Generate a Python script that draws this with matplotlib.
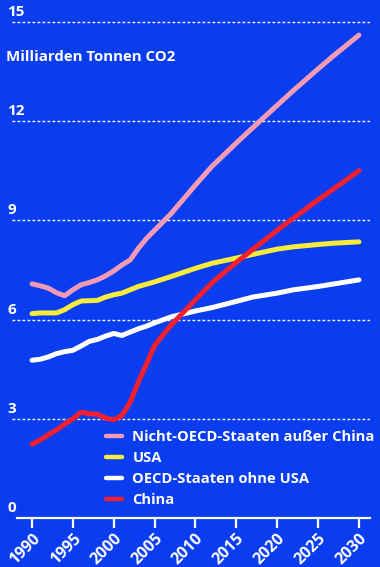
import matplotlib.pyplot as plt
from matplotlib.transforms import offset_copy

# CO2-Emissionen in Milliarden Tonnen
years = [1990, 1991, 1992, 1993, 1994, 1995, 1996, 1997, 1998, 1999, 2000,
         2001, 2002, 2003, 2004, 2005, 2007, 2010, 2012, 2015, 2017, 2020,
         2022, 2025, 2027, 2030]
nicht_oecd = [7.08, 7.02, 6.95, 6.81, 6.72, 6.90, 7.05, 7.12, 7.20, 7.32, 7.47,
              7.65, 7.80, 8.15, 8.45, 8.70, 9.20, 10.07, 10.63, 11.34, 11.80,
              12.48, 12.93, 13.58, 14.00, 14.60]
usa = [6.18, 6.20, 6.20, 6.20, 6.30, 6.45, 6.56, 6.57, 6.58, 6.68, 6.75,
       6.80, 6.90, 7.00, 7.07, 7.14, 7.30, 7.55, 7.70, 7.86, 7.97, 8.13,
       8.20, 8.27, 8.31, 8.35]
oecd_ohne_usa = [4.77, 4.80, 4.87, 4.97, 5.03, 5.07, 5.20, 5.34, 5.40, 5.50,
                 5.58, 5.52, 5.62, 5.72, 5.80, 5.90, 6.08, 6.26, 6.36, 6.55,
                 6.68, 6.80, 6.90, 7.00, 7.08, 7.20]
china = [2.23, 2.36, 2.52, 2.66, 2.84, 3.00, 3.20, 3.15, 3.14, 3.02, 2.97,
         3.10, 3.50, 4.10, 4.65, 5.22, 5.83, 6.60, 7.11, 7.73, 8.12, 8.70,
         9.07, 9.62, 9.97, 10.50]

series = [
    ('Nicht-OECD-Staaten außer China', nicht_oecd, '#f39bb4'),
    ('USA', usa, '#f7ec3c'),
    ('OECD-Staaten ohne USA', oecd_ohne_usa, '#ffffff'),
    ('China', china, '#f2202e'),
]
y_ticks = [0, 3, 6, 9, 12, 15]
x_ticks = list(range(1990, 2031, 5))

bg = '#0a3cf0'
plt.rcParams['font.family'] = ['Open Sans', 'DejaVu Sans']
plt.rcParams['font.weight'] = 'bold'

fig = plt.figure(figsize=(3.8, 5.67), dpi=100, facecolor=bg)
ax = fig.add_axes([12 / 380, 49 / 567, 358 / 380, 509 / 567])
ax.set_facecolor(bg)
ax.set_xlim(1987.55, 2031.35)
ax.set_ylim(0, 15.39)

# dotted gridlines
for v in y_ticks[1:]:
    ax.axhline(v, color='white', lw=1.0, ls=(0, (2, 1.6)), zorder=1)

for label, vals, col in series:
    ax.plot(years, vals, color=col, lw=3.6, solid_capstyle='round',
            solid_joinstyle='round', label=label, zorder=3)

# y labels sit above the gridlines
ytrans = offset_copy(ax.get_yaxis_transform(), fig=fig, x=0, y=3, units='dots')
for v in y_ticks:
    ax.text(-0.013, v, str(v), transform=ytrans, color='white', fontsize=11,
            fontweight='bold', ha='left', va='bottom')
ax.set_yticks([])

ax.text(-0.016, 13.95, 'Milliarden Tonnen CO2', transform=ax.get_yaxis_transform(),
        color='white', fontsize=10.8, fontweight='bold', ha='left', va='center')

for s in ['left', 'right', 'top']:
    ax.spines[s].set_visible(False)
ax.spines['bottom'].set_color('white')
ax.spines['bottom'].set_linewidth(1.6)
ax.spines['bottom'].set_bounds(1988.2, 2031.35)

ax.set_xticks(x_ticks)
ax.set_xticklabels([str(x) for x in x_ticks], rotation=45, ha='right',
                   rotation_mode='anchor', fontsize=11.5, fontweight='bold',
                   color='white')
ax.tick_params(axis='x', colors='white', length=7, width=1.6, pad=2)

leg = ax.legend(loc='upper left', bbox_to_anchor=(106 / 380, 1 - 430 / 567),
                bbox_transform=fig.transFigure, frameon=False, fontsize=10.6,
                handlelength=1.1, handletextpad=0.7, labelspacing=0.47,
                borderpad=0, borderaxespad=0)
for t in leg.get_texts():
    t.set_color('white')
for h in leg.get_lines():
    h.set_linewidth(3.2)

fig.savefig('out.png', dpi=100, facecolor=bg)
